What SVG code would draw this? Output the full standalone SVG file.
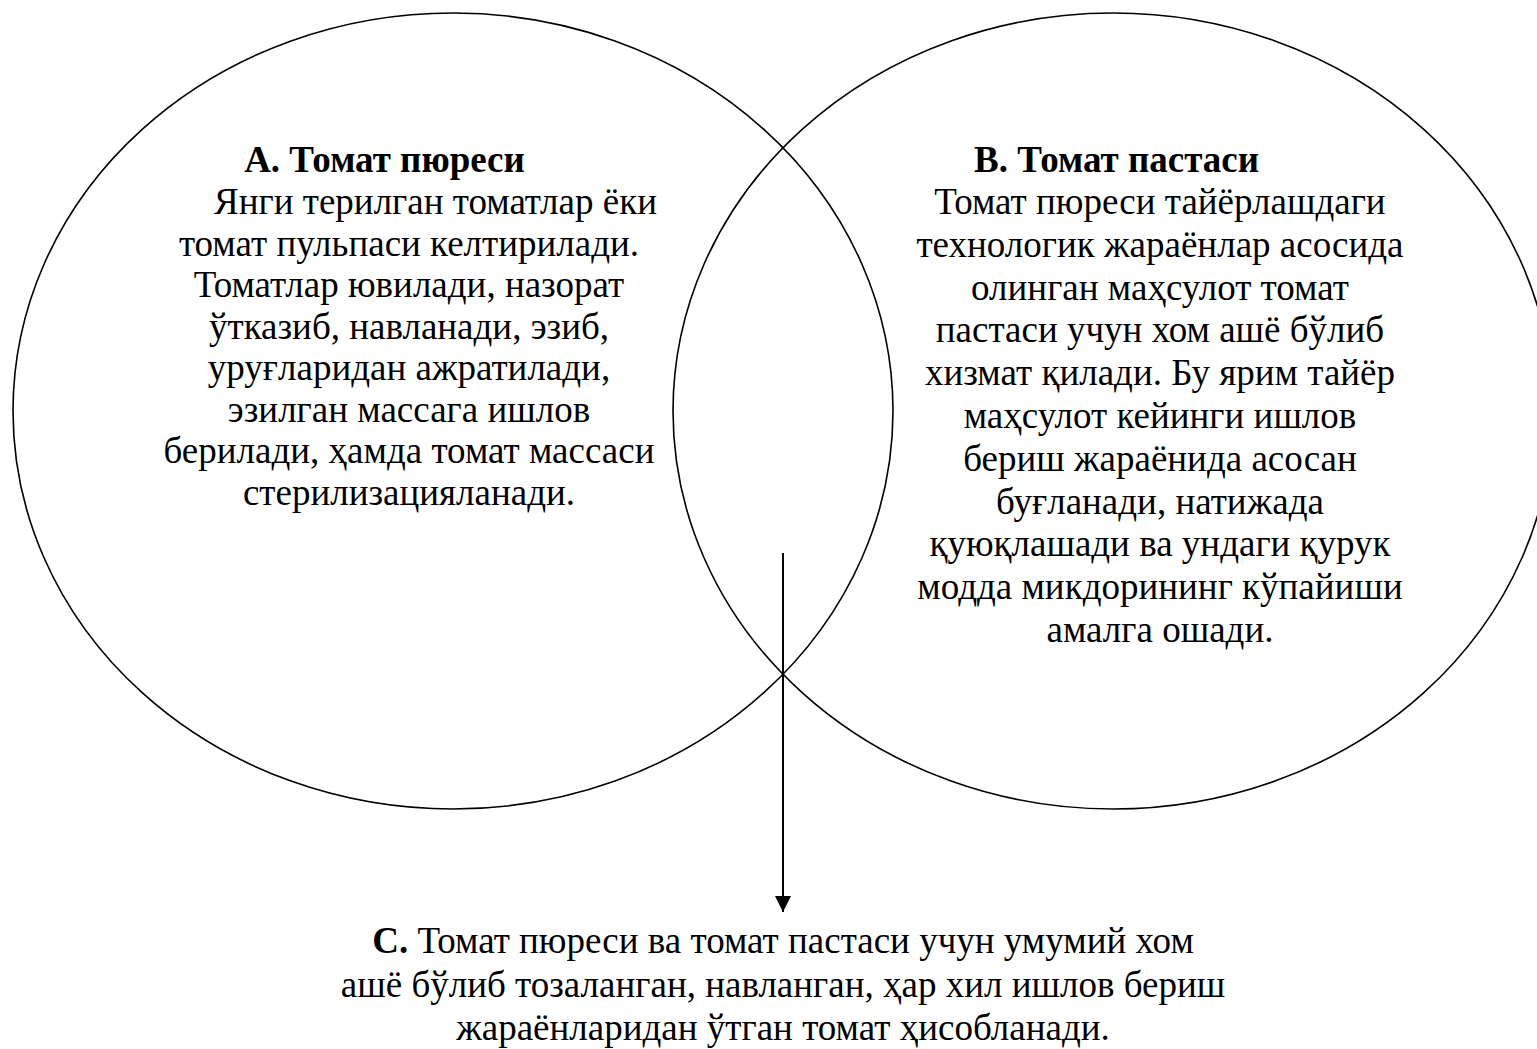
<svg xmlns="http://www.w3.org/2000/svg" width="1537" height="1049" viewBox="0 0 1537 1049">
  <style>
    .shape { fill: none; stroke: #000; stroke-width: 1.6; }
    .txt { font-family: "Liberation Serif", "Times New Roman", serif; font-size: 37px; fill: #000; text-anchor: middle; }
    .b { font-weight: bold; }
    .conn { stroke: #000; stroke-width: 2; fill: none; }
  </style>
  <defs>
    <marker id="arrow" markerUnits="userSpaceOnUse" markerWidth="18" markerHeight="16" refX="16" refY="8" orient="auto">
      <path d="M0,0 L16,8 L0,16 Z" fill="#000"/>
    </marker>
  </defs>
  <rect width="1537" height="1049" fill="#fff"/>

  <g id="node-a">
    <ellipse class="shape" cx="453" cy="411" rx="440" ry="398"/>
    <text class="txt b" x="384.5" y="172">А. Томат пюреси</text>
    <text class="txt" x="435.5" y="214">Янги терилган томатлар ёки</text>
    <text class="txt" x="409" y="255.5">томат пульпаси келтирилади.</text>
    <text class="txt" x="409" y="297">Томатлар ювилади, назорат</text>
    <text class="txt" x="409" y="338.5">ўтказиб, навланади, эзиб,</text>
    <text class="txt" x="409" y="380">уруғларидан ажратилади,</text>
    <text class="txt" x="409" y="421.5">эзилган массага ишлов</text>
    <text class="txt" x="409" y="463">берилади, ҳамда томат массаси</text>
    <text class="txt" x="409" y="504.5">стерилизацияланади.</text>
  </g>

  <g id="node-b">
    <ellipse class="shape" cx="1113" cy="411" rx="440" ry="398"/>
    <text class="txt b" x="1116.5" y="172">В. Томат пастаси</text>
    <text class="txt" x="1160" y="214">Томат пюреси тайёрлашдаги</text>
    <text class="txt" x="1160" y="256.8">технологик жараёнлар асосида</text>
    <text class="txt" x="1160" y="299.6">олинган маҳсулот томат</text>
    <text class="txt" x="1160" y="342.4">пастаси учун хом ашё бўлиб</text>
    <text class="txt" x="1160" y="385.2">хизмат қилади. Бу ярим тайёр</text>
    <text class="txt" x="1160" y="428">маҳсулот кейинги ишлов</text>
    <text class="txt" x="1160" y="470.8">бериш жараёнида асосан</text>
    <text class="txt" x="1160" y="513.6">буғланади, натижада</text>
    <text class="txt" x="1160" y="556.4">қуюқлашади ва ундаги қурук</text>
    <text class="txt" x="1160" y="599.2">модда микдорининг кўпайиши</text>
    <text class="txt" x="1160" y="642">амалга ошади.</text>
  </g>

  <g id="node-c">
    <text class="txt" x="783" y="953"><tspan class="b">С.</tspan> Томат пюреси ва томат пастаси учун умумий хом</text>
    <text class="txt" x="783" y="997">ашё бўлиб тозаланган, навланган, ҳар хил ишлов бериш</text>
    <text class="txt" x="783" y="1040">жараёнларидан ўтган томат ҳисобланади.</text>
  </g>

  <g id="connectors">
    <line class="conn" x1="783" y1="553" x2="783" y2="912" marker-end="url(#arrow)"/>
  </g>
</svg>
